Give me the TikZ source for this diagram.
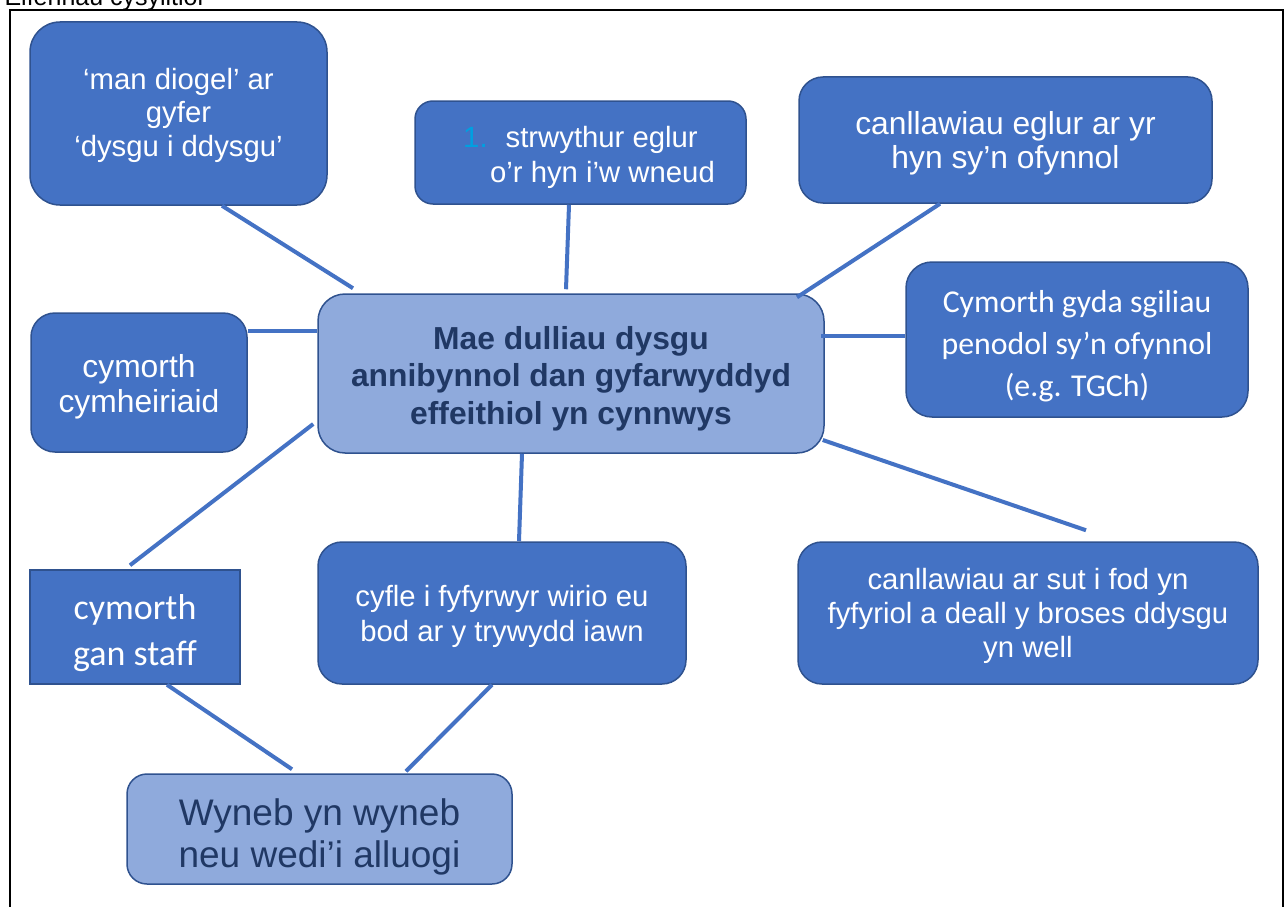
\documentclass[tikz,border=0pt]{standalone}
\usepackage{fontspec}
\setmainfont{Liberation Sans}
\newfontfamily\calfont{Carlito}
\definecolor{boxblue}{RGB}{68,114,196}
\definecolor{edgeblue}{RGB}{47,82,143}
\definecolor{paleblue}{RGB}{143,170,220}
\definecolor{navy}{RGB}{32,56,100}
\definecolor{numblue}{RGB}{0,160,225}
\newcommand{\fs}[2]{\fontsize{#1}{#2}\selectfont}
\newcommand{\drop}[1]{\rule{0pt}{#1pt}}
\begin{document}
\begin{tikzpicture}[x=1pt,y=-1pt,
  box/.style={draw=edgeblue,line width=1.5pt,fill=boxblue,text=white,align=center,inner sep=0pt},
  lightbox/.style={box,fill=paleblue,text=navy},
  link/.style={draw=boxblue,line width=4pt}]
\useasboundingbox (0,0) rectangle (1288,907);
\clip (0,0) rectangle (1288,907);
% heading (cut off at the top) and frame
\node[anchor=base west,font=\fs{25}{28}] (title) at (1,6) {Elfennau cysylltiol};
\draw[line width=2pt] (10,10) rectangle (1283,940);
% centre
\node[lightbox,rounded corners=27pt,minimum width=506pt,minimum height=159pt,font=\bfseries\fs{31.8}{37.5}] (ctr) at (571,373.5)
  {\drop{33}Mae dulliau dysgu\\annibynnol dan gyfarwyddyd\\effeithiol yn cynnwys};
% top row
\node[box,rounded corners=30pt,minimum width=297pt,minimum height=183pt,font=\fs{29.3}{33.5}] (safe) at (178.5,113.5)
  {\drop{25}‘man diogel’ ar\\gyfer\\‘dysgu i ddysgu’};
\node[box,rounded corners=18pt,minimum width=331pt,minimum height=103pt,font=\fs{29.3}{35}] (struct) at (580.5,152.5)
  {\drop{31}{\color{numblue}1.}\hspace{18pt}strwythur eglur\\\hspace*{44pt}o’r hyn i’w wneud};
\node[box,rounded corners=24pt,minimum width=413pt,minimum height=126pt,font=\fs{31.8}{34}] (clear) at (1005.5,140)
  {\drop{29}canllawiau eglur ar yr\\hyn sy’n ofynnol};
% middle row
\node[box,rounded corners=24pt,minimum width=216pt,minimum height=139pt,font=\fs{31.8}{35}] (peer) at (139,382.5)
  {\drop{31}cymorth\\cymheiriaid};
\node[box,rounded corners=26pt,minimum width=342pt,minimum height=155pt,font=\calfont\fs{31.8}{42}] (skills) at (1077,339.5)
  {\drop{36}Cymorth gyda sgiliau\\penodol sy’n ofynnol\\(e.g. TGCh)};
% bottom row
\node[box,rounded corners=0pt,minimum width=210pt,minimum height=114pt,font=\calfont\fs{36}{46}] (staff) at (135,627)
  {\drop{37}cymorth\\gan staff};
\node[box,rounded corners=24pt,minimum width=368pt,minimum height=142pt,font=\fs{29.3}{35}] (check) at (502,613)
  {\drop{29}cyfle i fyfyrwyr wirio eu\\bod ar y trywydd iawn};
\node[box,rounded corners=24pt,minimum width=460pt,minimum height=142pt,font=\fs{29.3}{34}] (reflect) at (1028,613)
  {\drop{27}canllawiau ar sut i fod yn\\fyfyriol a deall y broses ddysgu\\yn well};
\node[lightbox,rounded corners=20pt,minimum width=385pt,minimum height=110pt,font=\fs{37}{42}] (mode) at (319.5,829)
  {\drop{43}Wyneb yn wyneb\\neu wedi’i alluogi};
% connectors
\draw[link] ([xshift=43.5pt]safe.south) -- ([xshift=-218pt,yshift=5pt]ctr.north);
\draw[link] ([xshift=-11.5pt]struct.south) -- ([xshift=-5pt,yshift=4pt]ctr.north);
\draw[link] ([xshift=-65.5pt]clear.south) -- ([xshift=226pt,yshift=-4pt]ctr.north);
\draw[link] ([yshift=51.5pt]peer.east) -- ([yshift=42.5pt]ctr.west);
\draw[link] ([xshift=-4pt,yshift=37.5pt]ctr.east) -- ([yshift=3.5pt]skills.west);
\draw[link] ([xshift=-4pt,yshift=-50.5pt]ctr.west) -- ([xshift=-5pt,yshift=4pt]staff.north);
\draw[link] ([xshift=-49pt]ctr.south) -- ([xshift=17pt]check.north);
\draw[link] ([xshift=-2pt,yshift=-66.5pt]ctr.east) -- ([xshift=58pt,yshift=11pt]reflect.north);
\draw[link] ([xshift=32pt]staff.south) -- ([xshift=-27.5pt,yshift=4pt]mode.north);
\draw[link] ([xshift=-10pt]check.south) -- ([xshift=86.5pt,yshift=2pt]mode.north);
\end{tikzpicture}
\end{document}
